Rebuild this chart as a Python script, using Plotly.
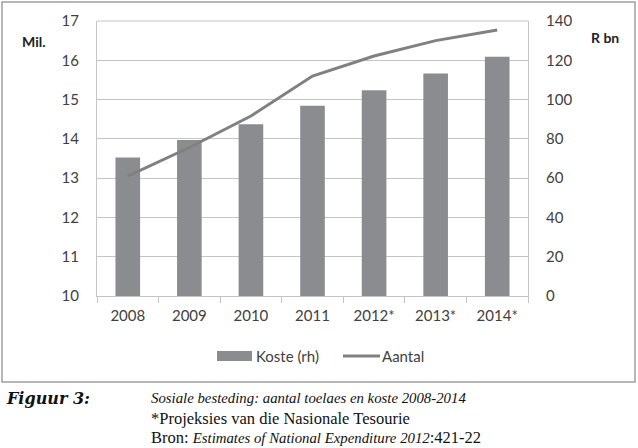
import plotly.graph_objects as go

years = ["2008", "2009", "2010", "2011", "2012*", "2013*", "2014*"]
koste = [70.5, 79.4, 87.4, 96.9, 104.7, 113.3, 121.8]      # R bn (right axis)
aantal = [13.05, 13.78, 14.58, 15.60, 16.11, 16.50, 16.77]  # Mil. (left axis)
left_ticks = [10, 11, 12, 13, 14, 15, 16, 17]
right_ticks = [0, 20, 40, 60, 80, 100, 120, 140]

W, H = 638, 448
L, R, T, B = 97, 528, 21, 296


def px(x):
    return (x - L) / (R - L)


def py(y):
    return (B - y) / (B - T)


bar_col = "#8b8c90"
line_col = "#808080"
grid_col = "#c4c4c4"
txt_col = "#404040"
tick_font = dict(family="Lato", size=15, color=txt_col)

fig = go.Figure()
fig.add_trace(go.Bar(x=years, y=koste, name="Koste (rh)", marker_color=bar_col,
                     marker_line_width=0, yaxis="y"))
fig.add_trace(go.Scatter(x=years, y=aantal, name="Aantal", mode="lines",
                         line=dict(color=line_col, width=3), yaxis="y2"))

fig.update_layout(
    width=W, height=H,
    margin=dict(l=L, r=W - R, t=T, b=H - B),
    paper_bgcolor="white", plot_bgcolor="white",
    showlegend=False,
    bargap=0.6,
    xaxis=dict(type="category", tickson="boundaries", ticks="outside", ticklen=6,
               tickcolor=grid_col, showline=True, linecolor=grid_col, linewidth=1,
               showgrid=False, tickfont=tick_font, ticklabelstandoff=6),
    yaxis=dict(side="right", range=[0, 140], tickvals=right_ticks, showgrid=True,
               gridcolor=grid_col, gridwidth=1, showline=True, linecolor=grid_col,
               tickfont=tick_font, ticks="", ticklabelstandoff=14, zeroline=False),
    yaxis2=dict(side="left", overlaying="y", range=[10, 17], tickvals=left_ticks,
                showgrid=False, showline=True, linecolor=grid_col,
                tickfont=tick_font, ticks="", ticklabelstandoff=14, zeroline=False),
)

shapes = [
    # outer frame
    dict(type="rect", xref="paper", yref="paper", x0=px(2), x1=px(635), y0=py(382), y1=py(2),
         line=dict(color="#a0a0a0", width=1.5), fillcolor="rgba(0,0,0,0)", layer="below"),
    # top border of plot area
    dict(type="line", xref="paper", yref="paper", x0=0, x1=1, y0=1, y1=1,
         line=dict(color=grid_col, width=1)),
    # legend swatches
    dict(type="rect", xref="paper", yref="paper", x0=px(217), x1=px(252), y0=py(361), y1=py(351),
         fillcolor=bar_col, line=dict(width=0)),
    dict(type="line", xref="paper", yref="paper", x0=px(343), x1=px(380), y0=py(356), y1=py(356),
         line=dict(color=line_col, width=3)),
]

serif = "Liberation Serif"
cap = dict(family=serif, size=16, color="#111")
ital = '<span style="font-size:14.8px"><i>{}</i></span>'

ann = [
    dict(text="<b>Mil.</b>", x=px(20), y=py(41), xanchor="left", yanchor="middle",
         font=dict(family="Lato", size=14, color="#222")),
    dict(text="<b>R bn</b>", x=px(589), y=py(38), xanchor="left", yanchor="middle",
         font=dict(family="Lato", size=14, color="#222")),
    dict(text="Koste (rh)", x=px(254), y=py(356), xanchor="left", yanchor="middle",
         font=dict(family="Lato", size=15, color=txt_col)),
    dict(text="Aantal", x=px(380), y=py(356), xanchor="left", yanchor="middle",
         font=dict(family="Lato", size=15, color=txt_col)),
    dict(text="<b><i>Figuur 3:</i></b>", x=px(4), y=py(398), xanchor="left", yanchor="middle",
         font=dict(family="DejaVu Serif", size=16, color="#111")),
    dict(text=ital.format("Sosiale besteding: aantal toelaes en koste 2008-2014"), x=px(149), y=py(398),
         xanchor="left", yanchor="middle", font=cap),
    dict(text='<span style="font-size:16.5px">*Projeksies van die Nasionale Tesourie</span>',
         x=px(149), y=py(418), xanchor="left", yanchor="middle", font=cap),
    dict(text='<span style="font-size:16.5px">Bron: </span>'
              + ital.format("Estimates of National Expenditure 2012")
              + '<span style="font-size:16.5px">:421-22</span>',
         x=px(149), y=py(437), xanchor="left", yanchor="middle", font=cap),
]
for a in ann:
    a.update(xref="paper", yref="paper", showarrow=False)

fig.update_layout(shapes=shapes, annotations=ann)
fig.write_html("out.html", config={"displayModeBar": False},
               post_script="document.body.style.margin='0';document.body.style.padding='0';")
